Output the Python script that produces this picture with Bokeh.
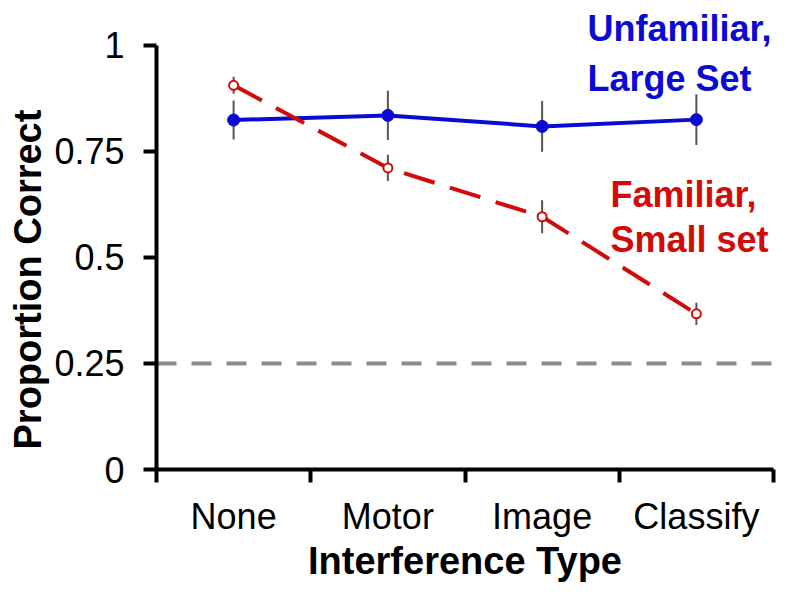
from bokeh.plotting import figure
from bokeh.models import FixedTicker, Label, Range1d, Title
from bokeh.embed import file_html
from bokeh.resources import INLINE

categories = ["None", "Motor", "Image", "Classify"]
unfamiliar_large = [0.824, 0.835, 0.809, 0.825]
unfamiliar_large_err = [0.046, 0.058, 0.060, 0.060]
familiar_small = [0.906, 0.711, 0.596, 0.367]
familiar_small_err = [0.020, 0.031, 0.039, 0.026]
chance_level = 0.25
y_ticks = [0, 0.25, 0.5, 0.75, 1]
y_tick_labels = ["0", "0.25", "0.5", "0.75", "1"]

BLUE = "#0a0ad2"
RED = "#d10a0a"
FONT = "Liberation Sans"

n = len(categories)
x = [i + 0.5 for i in range(n)]
bounds = [i for i in range(n + 1)]

p = figure(width=792, height=584, x_range=Range1d(0, n), y_range=Range1d(0, 1.1059),
           output_backend="svg", toolbar_location=None,
           min_border_left=156, min_border_right=19, min_border_top=0, min_border_bottom=114)
p.outline_line_color = None
p.grid.visible = False
p.background_fill_color = "white"

# x axis
xa = p.xaxis[0]
xa.bounds = (0, n)
xa.ticker = FixedTicker(ticks=x, minor_ticks=bounds)
xa.major_label_overrides = {xi: c for xi, c in zip(x, categories)}
xa.major_tick_out = 13
xa.major_tick_in = 0
xa.major_tick_line_alpha = 0
xa.minor_tick_out = 13
xa.minor_tick_in = 0
xa.minor_tick_line_width = 4
xa.minor_tick_line_color = "black"
xa.axis_line_width = 4
xa.axis_line_color = "black"
xa.major_label_text_font = FONT
xa.major_label_text_font_size = "36px"
xa.major_label_text_color = "black"
xa.major_label_standoff = 13
xa.axis_label = "Interference Type"
xa.axis_label_text_font = FONT
xa.axis_label_text_font_style = "bold"
xa.axis_label_text_font_size = "38px"
xa.axis_label_text_color = "black"
xa.axis_label_standoff = 0

# y axis
ya = p.yaxis[0]
ya.bounds = (0, 1)
ya.ticker = FixedTicker(ticks=y_ticks, minor_ticks=[])
ya.major_label_overrides = {t: l for t, l in zip(y_ticks, y_tick_labels)}
ya.major_tick_out = 13
ya.major_tick_in = 0
ya.major_tick_line_width = 4
ya.major_tick_line_color = "black"
ya.axis_line_width = 4
ya.axis_line_color = "black"
ya.major_label_text_font = FONT
ya.major_label_text_font_size = "36px"
ya.major_label_text_color = "black"
ya.major_label_standoff = 19
ya.axis_label_standoff = 0

# y axis title
p.add_layout(Title(text="Proportion Correct", align="left", offset=20, standoff=6,
                   text_font=FONT, text_font_style="bold", text_font_size="38px",
                   text_color="black"), "left")

# chance line
p.line([bounds[0], bounds[-1]], [chance_level, chance_level], line_color="#8c8c8c",
       line_width=4, line_dash="20 15")

# error bars
p.segment(x0=x, x1=x, y0=[v - e for v, e in zip(unfamiliar_large, unfamiliar_large_err)],
          y1=[v + e for v, e in zip(unfamiliar_large, unfamiliar_large_err)],
          line_color="#555555", line_width=2)
p.segment(x0=x, x1=x, y0=[v - e for v, e in zip(familiar_small, familiar_small_err)],
          y1=[v + e for v, e in zip(familiar_small, familiar_small_err)],
          line_color="#555555", line_width=2)

# blue series
p.line(x, unfamiliar_large, line_color=BLUE, line_width=4)
p.scatter(x, unfamiliar_large, size=12, fill_color=BLUE, line_color=BLUE)

# red series
p.line(x, familiar_small, line_color=RED, line_width=4, line_dash="32 16")
p.scatter(x, familiar_small, size=9, fill_color="white", line_color=RED, line_width=2)

# series labels
for txt, yy, col, xx in [("Unfamiliar,", 1.040, BLUE, 2.794), ("Large Set", 0.922, BLUE, 2.794),
                         ("Familiar,", 0.648, RED, 2.943), ("Small set", 0.542, RED, 2.943)]:
    p.add_layout(Label(x=xx, y=yy, text=txt, text_align="left", text_baseline="alphabetic",
                       text_font=FONT, text_font_style="bold", text_font_size="36px",
                       text_color=col))

open("out.html", "w").write(file_html(p, INLINE))
